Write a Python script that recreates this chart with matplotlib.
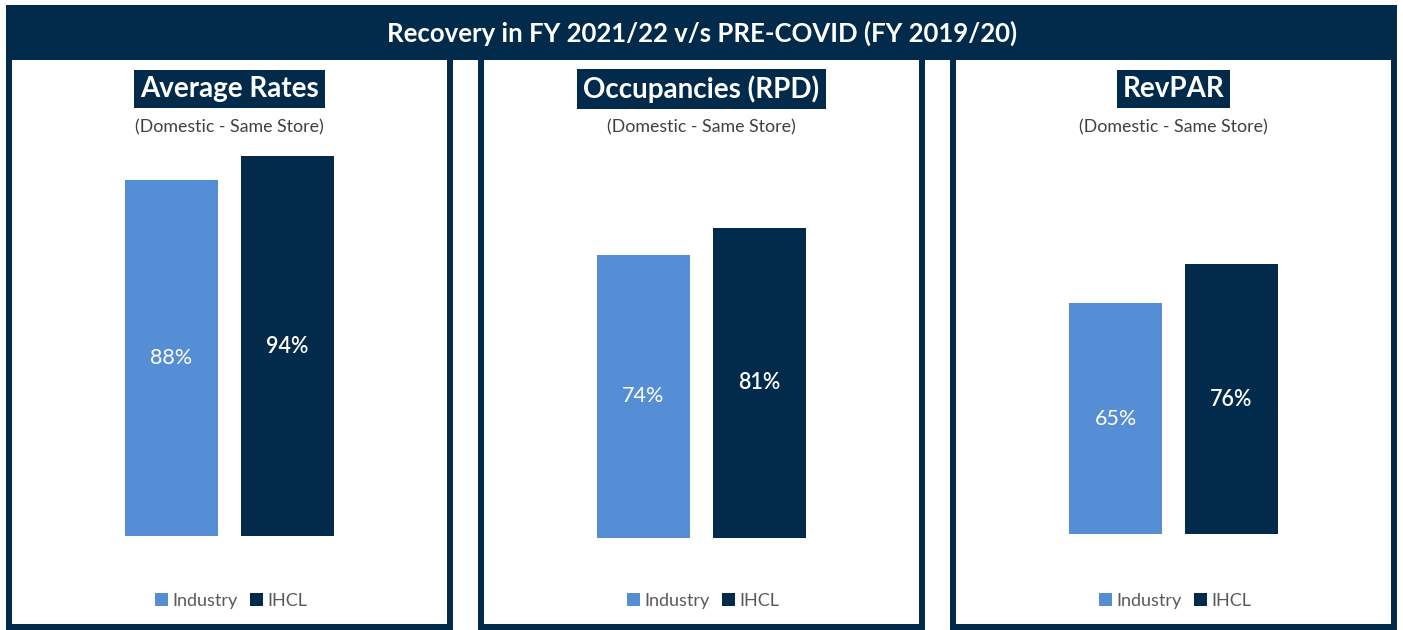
import numpy as np
import matplotlib
matplotlib.use("Agg")
import matplotlib.pyplot as plt
from matplotlib.patches import Rectangle, Patch

# data
main_title = "Recovery in FY 2021/22 v/s PRE-COVID (FY 2019/20)"
panel_titles = ["Average Rates", "Occupancies (RPD)", "RevPAR"]
subtitle = "(Domestic - Same Store)"
series = ["Industry", "IHCL"]
industry = [88, 74, 65]
ihcl = [94, 81, 76]

NAVY = "#022b4b"
LIGHT = "#558ed5"
W, H = 1403, 630

plt.rcParams["font.family"] = ["Lato", "DejaVu Sans"]

fig = plt.figure(figsize=(W / 100, H / 100), dpi=100)
fig.patch.set_facecolor("white")


def fx(x):
    return x / W


def fy(y):
    return 1 - y / H


def box(x0, y0, x1, y1, **kw):
    r = Rectangle((fx(x0), fy(y1)), fx(x1) - fx(x0), fy(y0) - fy(y1),
                  transform=fig.transFigure, **kw)
    fig.add_artist(r)


# title bar
box(6, 5, 1397, 60, facecolor=NAVY, edgecolor="none", zorder=0)
fig.text(fx(702), fy(33), main_title, color="white", fontsize=18.5,
         fontweight="bold", ha="center", va="center")

# panel frames (outer x0, outer x1)
panels = [(6, 453), (478, 925), (950, 1397)]
bottoms = [536, 538, 534]
ymax = [95.5, 101.3, 108.2]
border = 6

for i, (x0, x1) in enumerate(panels):
    box(x0, 58, x1, 630, facecolor=NAVY, edgecolor="none", zorder=0)
    box(x0 + border, 60, x1 - border, 624, facecolor="white",
        edgecolor="none", zorder=0)

    cx = (x0 + x1) / 2
    fig.text(fx(cx), fy(89), panel_titles[i], color="white", fontsize=20,
             fontweight="bold", ha="center", va="center",
             bbox=dict(boxstyle="square,pad=0.22", facecolor=NAVY,
                       edgecolor="none"))
    fig.text(fx(cx), fy(127), subtitle, color="#404040", fontsize=12.8,
             ha="center", va="center")

    # axes
    ax_l, ax_r = x0 + border, x1 - border
    top, bot = 150, bottoms[i]
    ax = fig.add_axes([fx(ax_l), fy(bot), fx(ax_r) - fx(ax_l),
                       fy(top) - fy(bot)])
    ax.set_facecolor("none")
    span = (ax_r - ax_l) / 116.0
    ax.set_xlim(0.5 - span / 2, 0.5 + span / 2)
    ax.set_ylim(0, ymax[i])
    vals = [industry[i], ihcl[i]]
    cols = [LIGHT, NAVY]
    bars = ax.bar([0, 1], vals, width=0.81, color=cols)
    for j, b in enumerate(bars):
        ax.text(b.get_x() + b.get_width() / 2, vals[j] / 2, f"{vals[j]}%",
                color="white", fontsize=15.5, ha="center", va="center",
                fontweight="semibold" if j == 1 else "normal")
    ax.axis("off")

    handles = [Patch(facecolor=LIGHT, edgecolor="none"),
               Patch(facecolor=NAVY, edgecolor="none")]
    fig.legend(handles, series, loc="center",
               bbox_to_anchor=(fx(cx + 2), fy(601)), ncol=2, frameon=False,
               fontsize=13, labelcolor="#595959", handlelength=0.7,
               handleheight=0.7, handletextpad=0.25, columnspacing=0.7)

fig.savefig("out.png", dpi=100, facecolor="white")
